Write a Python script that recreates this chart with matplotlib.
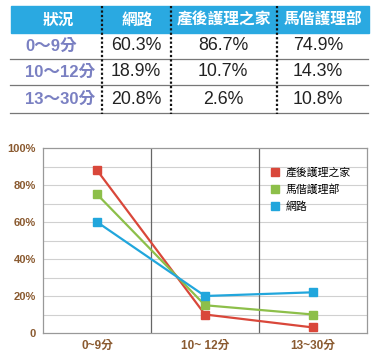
import matplotlib
matplotlib.use("Agg")
import matplotlib.pyplot as plt
from matplotlib.lines import Line2D
from matplotlib.patches import Rectangle

FAM = ['Liberation Sans', 'Noto Sans CJK TC', 'DejaVu Sans']
plt.rcParams['font.family'] = FAM

# ---- data ----
table_header = ['狀況', '網路', '產後護理之家', '馬偕護理部']
table_rows = ['0～9分', '10～12分', '13～30分']
table_net = ['60.3%', '18.9%', '20.8%']
table_postnatal = ['86.7%', '10.7%', '2.6%']
table_mackay = ['74.9%', '14.3%', '10.8%']

categories = ['0~9分', '10~ 12分', '13~30分']
series_names = ['產後護理之家', '馬偕護理部', '網路']
postnatal = [88, 10, 3]
mackay = [75, 15, 10]
net = [60, 20, 22]
series_colors = ['#d9473a', '#8dbf4a', '#21a6dc']
y_ticks = [0, 20, 40, 60, 80, 100]
y_tick_labels = ['0', '20%', '40%', '60%', '80%', '100%']

W, H = 380, 361
fig = plt.figure(figsize=(W / 100, H / 100), dpi=100)
fig.patch.set_facecolor('white')

def fx(px):
    return px / W

def fy(py):
    return 1 - py / H

# ---- table ----
fig.patches.append(Rectangle((fx(11), fy(33)), fx(358), 27 / H,
                             transform=fig.transFigure, color='#2aa9e1', zorder=0))
for yline in [59, 85, 113]:
    fig.add_artist(Line2D([fx(10), fx(368)], [fy(yline), fy(yline)],
                          transform=fig.transFigure, color='#777777', lw=0.9))
for xline in [102, 171, 277]:
    fig.add_artist(Line2D([fx(xline), fx(xline)], [fy(6), fy(114)],
                          transform=fig.transFigure, color='#111111', lw=1.6,
                          linestyle=(0, (1, 1))))
hdr_x = [58, 137, 224, 323]
for t, x in zip(table_header, hdr_x):
    fig.text(fx(x), fy(19.5), t, ha='center', va='center', color='white',
             fontsize=11.3, fontweight='bold', family=['Noto Sans CJK TC'])
row_y = [46, 72, 99]
col_x = [136, 223, 318]
for i, y in enumerate(row_y):
    fig.text(fx(25), fy(y), table_rows[i], ha='left', va='center', color='#7a80c2',
             fontsize=12, fontweight='bold', family=FAM)
    for x, col in zip(col_x, [table_net, table_postnatal, table_mackay]):
        fig.text(fx(x), fy(y), col[i], ha='center', va='center', color='#222222',
                 fontsize=12.8, family=FAM)

# ---- chart ----
ax = fig.add_axes([fx(43), fy(333), fx(324), 185 / H])
xs = list(range(len(categories)))
for name, vals, c in zip(series_names, [postnatal, mackay, net], series_colors):
    ax.plot(xs, vals, color=c, lw=1.6, marker='s', markersize=5.5, label=name,
            zorder=3)
ax.set_xlim(-0.5, 2.5)
ax.set_ylim(0, 100)
for g in range(10, 100, 10):
    ax.axhline(g, color='#d0d0d0', lw=0.8, zorder=1)
for v in [0.5, 1.5]:
    ax.axvline(v, color='#666666', lw=0.9, zorder=1)
for s in ax.spines.values():
    s.set_color('#999999')
    s.set_linewidth(0.9)
ax.set_yticks(y_ticks)
ax.set_yticklabels(y_tick_labels)
ax.set_xticks(xs)
ax.set_xticklabels(categories)
ax.tick_params(axis='y', length=0, labelsize=8, labelcolor='#8a5a30', pad=5)
ax.tick_params(axis='x', length=0, labelsize=8.5, labelcolor='#8a5a30', pad=5)
for lab in ax.get_xticklabels() + ax.get_yticklabels():
    lab.set_fontweight('bold')
    lab.set_family(FAM)

handles = [Line2D([], [], color=c, marker='s', linestyle='none', markersize=5.5)
           for c in series_colors]
leg = ax.legend(handles, series_names, loc='upper left', bbox_to_anchor=(0.69, 0.92),
                frameon=False, handlelength=0.8, handletextpad=0.6,
                labelspacing=0.6, borderaxespad=0, prop={'family': FAM, 'size': 7.8})

fig.savefig('out.png', dpi=100)
